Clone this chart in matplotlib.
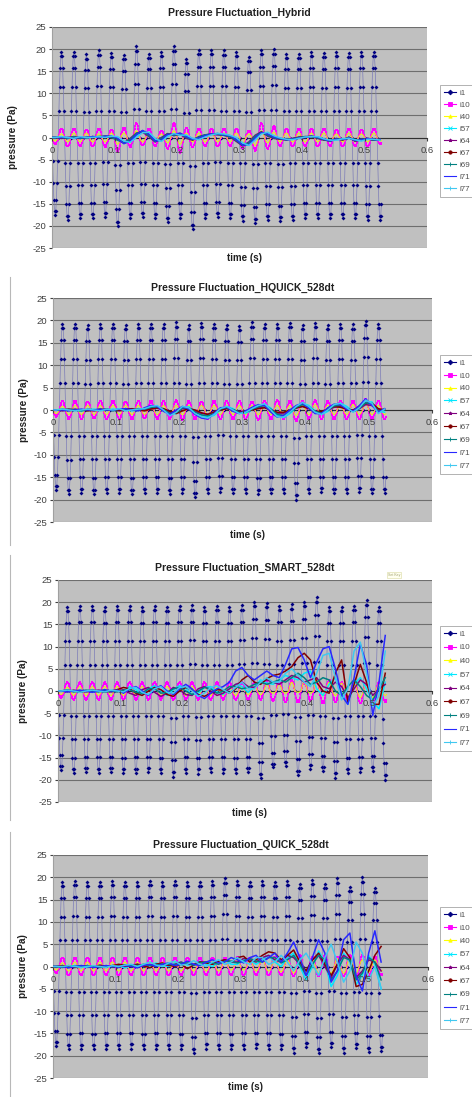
import numpy as np
import matplotlib
matplotlib.use("Agg")
import matplotlib.pyplot as plt
from matplotlib.lines import Line2D

plt.rcParams['font.family'] = ['Liberation Sans', 'DejaVu Sans']
plt.rcParams['axes.unicode_minus'] = False

# ---------------- data ----------------
series_names = ["i1", "i10", "i40", "i57", "i64", "i67", "i69", "i71", "i77"]
titles = ["Pressure Fluctuation_Hybrid", "Pressure Fluctuation_HQUICK_528dt",
          "Pressure Fluctuation_SMART_528dt", "Pressure Fluctuation_QUICK_528dt"]
n_samples = 528          # 1 ms steps
# one 20 ms cycle of the probe signal, normalised (read from marker levels)
cycle_shape = [0, -0.31, -0.59, -0.81, -0.95, -1.0, -0.95, -0.81, -0.59, -0.31,
               0, 0.31, 0.59, 0.81, 0.95, 1.0, 0.95, 0.81, 0.59, 0.31]

# i1 per-cycle maxima / minima
hyb_i1_hi = [19.3, 19.3, 18.8, 19.7, 19.2, 18.6, 20.6, 19, 19.3, 20.6, 17.8, 19.8, 19.8,
             19.7, 19.3, 18.3, 19.8, 20, 19, 19, 19.3, 19.1, 19.3, 19.1, 19.3, 19.3]
hyb_i1_lo = [-17.5, -18.6, -18.3, -18.3, -17.9, -20.1, -18.3, -17.9, -18.3, -19.2, -18.3,
             -20.8, -18.3, -17.9, -18.3, -18.8, -19.4, -18.6, -19, -18.6, -18.3, -18.3,
             -18.3, -18.3, -18.3, -18.6, -18.6]
hq_i1_hi = [19.2, 19.3, 19, 19.2, 19.3, 19, 19.2, 19.3, 19.2, 19.6, 19, 19.5, 19.2, 19,
            18.8, 19.6, 19.2, 19.3, 19.4, 19, 19.5, 19, 19.2, 19.1, 19.9, 19.3]
hq_i1_lo = [-17.8, -18.8, -18.6, -18.7, -18.5, -18.6, -18.7, -18.5, -18.6, -18.7, -18.6,
            -19.5, -18.5, -18.3, -18.6, -18.5, -18.7, -18.5, -18.6, -20, -18.5, -18.4,
            -18.6, -18.5, -18.3, -18.6, -18.5]
sm_i1_hi = [19, 19.2, 19.2, 19, 19.2, 19.2, 19, 19.2, 19, 19.2, 19.3, 19, 19.2, 19, 19.3,
            20.1, 19.8, 19.2, 19.5, 20.1, 21.1, 19, 19, 19.2, 20.5, 19]
sm_i1_lo = [-17.8, -18.5, -18.3, -18.4, -18.3, -18.5, -18.4, -18.3, -18.5, -19.3, -18.4,
            -18.6, -18.3, -18.4, -18.5, -18.3, -19.7, -17.2, -16.8, -19, -17.5, -18,
            -19.5, -18.5, -18.3, -18, -20]
qk_i1_hi = [19, 19.2, 19, 19, 19.2, 19, 19, 19.2, 19, 19.2, 19, 19, 19.2, 19.8, 19.2, 19,
            19.2, 19, 19.2, 18.5, 19.5, 18.5, 19.8, 17.8, 20, 17.5]
qk_i1_lo = [-17.8, -18.6, -18.5, -18.6, -18.5, -18.5, -18.4, -18.6, -18.5, -18.5, -18.6,
            -19.5, -18.4, -18.5, -18.6, -18.5, -18.3, -18.5, -18.6, -19.3, -18, -19.5,
            -18, -19.3, -18.3, -19.2, -19]

# i10 per-cycle maxima / minima
hyb_i10_hi = [2, 2, 1.8, 2, 1.8, 2.2, 3.3, 2, 1.5, 3.3, 2.2, 2, 2, 2, 2, 1.5, 3.2, 2.5,
              2, 2, 2, 2, 1.8, 2, 1.8, 2]
hyb_i10_lo = [-1.5, -2, -2, -2, -2.2, -3.3, -2.2, -1.8, -2, -2.5, -3.5, -2.2, -2, -2, -2,
              -2.5, -3, -2.5, -2, -2, -2, -2, -2, -2, -2, -2, -1.5]
hq_i10_hi = [2, 2, 1.8, 2, 2, 1.8, 2, 2, 2, 2.2, 2, 1.8, 2, 2, 2, 1.8, 2, 2.2, 2, 2, 2.2,
             2, 2, 2, 2.5, 2]
hq_i10_lo = [-1.5, -2, -2, -1.8, -2, -2, -2, -1.8, -2, -2, -2.2, -2, -2, -2, -2, -2, -2.2,
             -2, -2, -2.5, -2, -2, -2, -2, -2, -2, -2]
sm_i10_hi = [2, 2, 2, 2, 2, 2, 2, 2, 2, 2, 2, 2, 2, 2, 2, 2, 2, 2, 2.5, 2, 2, 2.5, 2, 2,
             2, 2]
sm_i10_lo = [-1.5, -2, -2, -2, -2, -2, -2, -2, -2, -2, -2, -2, -2, -2, -2, -2, -2, -2.2,
             -2.5, -2.5, -2.2, -2.8, -2.5, -2.5, -2.8, -2.5, -2.5]
qk_i10_hi = [2, 2, 2, 2, 2, 2, 2, 2, 2, 2, 2, 2, 2, 2, 2.2, 2, 2, 2.2, 2, 2.5, 2.2, 2.5,
             2.2, 2.5, 2.5, 2.2]
qk_i10_lo = [-1.5, -2, -2, -2, -2, -2, -2, -2, -2, -2, -2, -2, -2, -2, -2, -2, -2, -2,
             -2, -2.2, -2, -2.2, -2.5, -2.2, -2.5, -2.2, -2]

# i40 per-cycle maxima / minima
hyb_i40_hi = [0.8, 1, 1, 0.8, 1, 1, 1.5, 1, 0.8, 1.5, 1, 1, 1, 1, 1, 0.8, 1.5, 1.2, 1, 1,
              1, 1, 0.8, 1, 0.8, 1]
hyb_i40_lo = [-0.8, -1, -1, -1, -1, -1.5, -1.2, -1, -1, -1.2, -1.5, -1, -1, -1, -1, -1.2,
              -1.8, -1.2, -1, -1, -1, -1, -1, -1, -1, -1, -0.8]
hq_i40_hi = [0.8, 1, 1, 1, 1, 1, 1, 1, 1, 1, 1, 1, 1, 1, 1, 1, 1, 1, 1, 1, 1.2, 1, 1, 1.2,
             1.5, 1]
hq_i40_lo = [-0.8, -1, -1, -1, -1, -1, -1, -1, -1, -1, -1, -1, -1, -1, -1, -1, -1, -1, -1,
             -1.2, -1, -1, -1, -1, -1, -1, -1]
sm_i40_hi = [0.8, 1, 1, 1, 1, 1, 1, 1, 1, 1, 1, 1, 1, 1, 1, 1.2, 1.5, 1.5, 2, 2, 2.5, 2,
             1.8, 2, 2, 1.5]
sm_i40_lo = [-0.8, -1, -1, -1, -1, -1, -1, -1, -1, -1, -1, -1, -1, -1, -1, -0.8, -0.8,
             -0.5, -0.5, -0.3, -0.5, -1, -1, -1, -1.5, -1.5, -1]
qk_i40_hi = [0.8, 1, 1, 1, 1, 1, 1, 1, 1, 1, 1, 1, 1.2, 1.2, 1.5, 1.5, 1.5, 1.8, 1.5, 2,
             1.5, 2, 1.8, 2, 1.5, 1.5]
qk_i40_lo = [-0.8, -1, -1, -1, -1, -1, -1, -1, -1, -1, -1, -1, -1, -1, -0.8, -0.8, -1, -1,
             -1.2, -1.5, -1.2, -1.5, -1.5, -1.5, -1.5, -1.2, -1]

# slow probes, one value every half cycle (t = 0, 0.005, 0.015, ..., 0.525)
hyb_i57 = [0, 0, 0.2, -0.2, 0, 0, -0.2, 0.2, 0, 0.2, 0.3, 0, -1.0, -1.0, 0.3, 1.3, 1.0,
           -0.5, -0.8, 0.5, 0.8, 0.6, 0.4, -0.4, -0.3, 0.3, 0.7, 0.9, 0.7, 0.4, -0.3, -1.5,
           -1.7, -0.3, 1.0, 1.0, 0.2, -0.2, -0.5, -0.4, -0.1, 0.1, 0.3, 0.1, -0.4, -0.7,
           -0.5, -0.4, -0.1, -0.6, -0.7, -0.3, -0.5, -0.5]
hyb_i64 = [0, 0, -0.2, 0, 0.2, 0, 0, 0, 0.2, 0.2, 0, -0.5, -1.2, -0.2, 1.0, 1.2, 0.2,
           -1.0, 0, 0.9, 0.4, 0.7, -0.2, -0.6, 0.2, 0.6, 0.7, 0.6, 0.5, 0.1, -0.9, -1.9,
           -1.0, 0.5, 1.3, 0.3, -0.2, -0.4, -0.5, -0.2, 0.1, 0.2, 0.2, -0.2, -0.6, -0.7,
           -0.2, -0.6, 0.1, -0.8, -0.3, -0.3, -0.6, -0.3]
hyb_i67 = [0, 0, 0, -0.2, 0, -0.2, 0, 0.2, 0, 0.3, 0.2, -0.3, -1.3, -0.6, 0.8, 1.5, 0.6,
           -0.9, -0.4, 0.8, 0.6, 0.9, 0.1, -0.5, 0, 0.5, 0.8, 0.8, 0.6, 0.3, -0.6, -1.8,
           -1.4, 0.1, 1.2, 0.6, 0, -0.3, -0.5, -0.3, 0, 0.1, 0.3, 0, -0.5, -0.8, -0.3,
           -0.5, 0, -0.8, -0.5, -0.2, -0.6, -0.4]
hyb_i69 = [0, 0, 0, -0.2, 0.2, -0.2, 0, 0.2, 0.2, 0.3, 0, -0.6, -1.2, -0.4, 0.9, 1.4, 0.4,
           -0.9, -0.2, 0.8, 0.5, 0.8, 0, -0.5, 0.1, 0.6, 0.8, 0.7, 0.5, 0.2, -0.7, -1.8,
           -1.2, 0.3, 1.2, 0.5, -0.1, -0.3, -0.5, -0.3, 0, 0.2, 0.2, -0.1, -0.5, -0.8,
           -0.3, -0.5, 0, -0.7, -0.4, -0.3, -0.6, -0.4]
hyb_i71 = [0, 0, 0, 0, -0.2, 0, 0, 0.2, 0, 0.3, 0.3, -0.2, -1.4, -0.8, 0.6, 1.6, 0.8,
           -0.8, -0.6, 0.7, 0.7, 1.0, 0.2, -0.4, -0.1, 0.4, 0.8, 0.9, 0.6, 0.4, -0.5, -1.7,
           -1.6, -0.1, 1.1, 0.8, 0.1, -0.2, -0.5, -0.4, -0.1, 0, 0.3, 0.1, -0.4, -0.8,
           -0.4, -0.4, -0.1, -0.7, -0.6, -0.2, -0.5, -0.5]
hyb_i77 = [0, 0, 0.2, 0, -0.2, 0.2, 0, 0, 0.2, 0, 0.3, 0.2, -0.8, -1.1, 0, 1.1, 1.2,
           -0.2, -0.9, 0.2, 0.9, 0.5, 0.6, -0.2, -0.5, 0.1, 0.6, 0.9, 0.8, 0.5, 0, -1.2,
           -1.8, -0.6, 0.8, 1.2, 0.4, -0.1, -0.4, -0.5, -0.2, 0.1, 0.2, 0.2, -0.3, -0.6,
           -0.6, -0.3, -0.2, -0.5, -0.8, -0.4, -0.4, -0.6]

hq_i57 = [0, 0, 0, 0.2, 0, -0.2, 0, 0.2, 0, 0, 0.2, 0, 0.2, -0.2, 0, 0.4, 0.6, 0.8, 0.2,
          -1.0, -0.8, 0.5, 0.7, -0.4, -1.2, -1.5, -1.2, 0, 0.8, 0.3, -0.6, -0.7, 0, 0.8,
          1.3, 0.4, -1.2, -1.7, -0.8, 0.5, 1.5, 1.0, -0.2, -1.0, -0.3, 1.0, 1.5, 0.8,
          -0.3, 0.2, 1.8, 1.8, -0.3, -0.5]
hq_i64 = [0, 0, -0.2, 0, 0.2, 0, 0, -0.2, 0, 0.2, 0, -0.2, 0, 0.3, 0, 0, 0.3, 0.4, 0,
          -0.5, -0.3, 0.3, 0.2, -0.3, -0.8, -0.9, -0.4, 0.2, 0.4, 0, -0.4, -0.2, 0.2, 0.5,
          0.6, 0, -0.7, -0.7, -0.2, 0.4, 0.8, 0.4, -0.3, -0.5, 0, 0.6, 0.8, 0.3, -0.2,
          0.3, 1.2, 1.0, 0, 0.2]
hq_i67 = [0, 0, 0, 0.2, 0, 0, -0.2, 0, 0.2, 0, 0, 0, 0.3, 0.2, 0, -0.2, 0.2, 0.5, 0.3,
          -0.3, -0.8, -0.2, 0.3, 0, -0.6, -1.0, -0.5, 0, 0.3, 0, -0.5, -0.3, 0, 0.3, 0.5,
          0, -0.5, -0.5, 0, 0.5, 0.8, 0.3, -0.3, -0.3, 0.2, 0.8, 0.6, 0.2, 0, 0.8, 1.5,
          1.5, 0.3, 0]
hq_i69 = [0, 0, 0.2, 0, 0, -0.2, 0.2, 0, 0, 0.2, -0.2, 0.2, 0, 0, 0.3, 0.2, 0.6, 0.7, 0.1,
          -0.8, -0.6, 0.5, 0.5, -0.5, -1.1, -1.3, -0.8, 0.2, 0.6, 0.1, -0.6, -0.5, 0.2,
          0.7, 1.0, 0.2, -1.0, -1.2, -0.5, 0.6, 1.2, 0.7, -0.3, -0.7, 0, 0.9, 1.1, 0.4,
          -0.3, 0.4, 1.6, 1.3, -0.3, 0]
hq_i71 = [0, 0, 0, -0.2, 0, 0.2, 0, 0, 0.2, 0, 0, 0.2, 0.3, 0, -0.2, 0.5, 1.0, 0.8, -0.3,
          -1.0, 0, 0.8, 0.2, -1.0, -1.8, -2.0, -0.8, 0.5, 0.6, -0.3, -0.8, -0.2, 0.6, 1.2,
          1.0, -0.5, -1.6, -1.2, 0, 1.0, 1.5, 0.4, -0.8, -0.8, 0.5, 1.3, 1.2, 0.2, -0.2,
          1.0, 2.5, 1.0, -0.5, 0.3]
hq_i77 = [0, 0, 0.2, 0, -0.2, 0, 0.2, 0, -0.2, 0.2, 0, 0.3, -0.2, 0, 0.2, 0.3, 0.8, 1.0,
          0, -1.3, -0.5, 0.8, 0.5, -0.8, -1.5, -1.8, -1.0, 0.3, 0.8, 0, -0.8, -0.5, 0.3,
          1.0, 1.4, 0, -1.5, -1.6, -0.5, 0.8, 1.7, 0.8, -0.5, -1.0, 0, 1.2, 1.5, 0.5, -0.5,
          0.5, 2.2, 1.5, -0.8, 0.2]

sm_i57 = [0, 0, 0.3, 0, -0.2, 0, 0.3, 0, -0.3, 0, 0.3, -0.3, 1.0, 0.3, -0.8, 0.5, 1.2, 0,
          -1.0, 0.3, 1.2, 0.6, -0.8, -0.5, 0.8, 1.0, -0.2, -0.8, 0.5, 1.5, 1.0, -0.3, 1.0,
          2.5, 1.8, 1.5, 2.5, 3.5, 3.0, 2.5, 4.0, 4.5, 0.5, -1.0, 1.5, 3.0, -0.5, -3.0,
          1.5, 3.0, 0.5, -2.5, -4.0, 2.0]
sm_i64 = [0, 0, -0.2, 0.2, 0, -0.2, 0, 0.2, 0, -0.2, 0, 0.3, -0.5, -1.0, 0.3, 0.8, -0.3,
          -1.2, -0.5, 0.8, 0.3, -0.8, -1.0, 0.5, 1.0, 0, -1.0, -0.5, 0.5, 1.5, 2.0, 1.0,
          0.8, 1.8, 2.5, 2.0, 1.5, 2.5, 3.5, 3.0, 2.0, 2.5, 3.0, 1.0, 0.5, 2.0, 1.0, -1.5,
          0.5, 2.5, 1.5, -1.0, 0.5, 1.5]
sm_i67 = [0, 0, 0.2, 0, -0.2, 0, 0.2, 0, -0.2, 0, 0.3, 0.8, 0.5, -0.5, -1.0, 0, 0.8, 0.3,
          -0.8, -1.2, 0, 0.8, 0.2, -0.8, -1.2, -0.5, 0.3, 0.2, -0.5, 0.5, 2.5, 3.5, 2.0,
          1.5, 2.8, 3.5, 3.8, 4.5, 5.5, 7.5, 8.5, 7.0, 2.0, 0, -0.5, 4.0, 7.0, -2.5, 1.5,
          6.0, 2.0, -3.0, -3.0, 4.0]
sm_i69 = [0, 0, 0.2, -0.2, 0, 0.2, 0, -0.2, 0.2, 0, -0.2, 0.2, 0.3, -0.3, -0.5, 0.5, 0.5,
          -0.5, -0.3, 0.5, 0.8, 0, -0.8, 0, 0.8, 0.5, -0.5, 0, 1.0, 1.0, 0.5, 0.8, 1.5,
          2.0, 1.5, 2.0, 2.5, 2.0, 3.0, 4.0, 3.0, 1.5, 2.0, 3.0, 2.5, 0, -1.0, 1.0, 2.5,
          1.0, -1.0, -2.0, 0.5, 3.0]
sm_i71 = [0, 0, -0.2, 0, 0.2, 0, -0.3, 0, 0.3, 0, 0.2, -0.5, 0.5, 1.0, 0, -1.0, 0.5, 1.2,
          0, -0.8, 0.5, 1.5, 0.5, -1.0, -1.7, -0.5, 0.5, 1.0, 2.0, 4.5, 5.3, 3.5, 2.5, 3.5,
          4.5, 3.5, 3.0, 6.0, 9.5, 9.8, 7.0, 3.0, 6.5, 9.5, 10.0, 5.0, -1.0, -3.0, 3.0,
          10.5, 6.0, -5.5, 2.0, 12.5]
sm_i77 = [0, 0, 0.2, 0, -0.3, 0, 0.2, 0, -0.2, 0.2, 0, -0.2, 0.6, 0.8, -0.3, -0.8, 0.5,
          1.0, -0.3, -0.5, 0.8, 1.0, 0, -1.2, -0.5, 0.8, 1.2, 0.3, -0.5, 0.8, 2.0, 0.5,
          0.5, 2.0, 3.0, 2.0, 2.0, 4.0, 5.0, 3.5, 2.0, 1.0, 4.0, 8.0, 8.5, 3.0, -2.0, 0.5,
          9.0, 11.0, 4.0, -3.5, -1.0, 9.0]

qk_i57 = [0, 0, -0.2, 0, 0.2, 0, -0.2, 0, 0.2, 0, 0, 0.2, -0.3, 0.2, 0.5, 0, 0.3, 0.8,
          0.2, 0, 0.8, 1.0, 0.3, 0.5, 1.2, 0.5, 0, 1.0, 1.5, 0.5, 0.5, 1.5, 1.5, 0.5, 1.5,
          2.5, 1.0, 0, 2.0, 3.0, 0, -3.0, 0, 3.5, 1.0, -4.5, -2.0, 3.0, 1.0, -4.0, -2.0,
          2.5, 0.5, -5.0]
qk_i64 = [0, 0, 0.2, 0, -0.2, 0.2, 0, -0.2, 0, 0.2, 0, 0.3, 0, 0.3, 0.5, 0, 0.3, 0.5, 0.5,
          0.2, 0.5, 1.0, 0.5, 0.5, 1.0, 1.0, 0.5, 1.0, 1.5, 1.0, 1.0, 1.8, 1.5, 1.0, 2.0,
          2.5, 1.5, 1.0, 2.5, 2.0, 0.5, -1.0, 1.5, 2.5, 0, -2.5, 0.5, 2.5, 1.5, -2.5, -1.0,
          1.5, 1.0, -1.0]
qk_i67 = [0, 0, 0.2, 0, -0.2, 0, 0.2, 0, 0.3, 0, 0.2, 0.5, 0.3, 0, 0.5, 0.2, -0.3, 0.5,
          0.8, 0.3, 0, 0.5, -0.5, 0.3, 1.0, 0.8, 0.5, 1.2, 1.5, 1.0, 2.0, 2.3, 1.0, 1.5,
          2.5, 3.3, 3.0, 1.5, 2.5, 3.7, 1.0, -1.0, 1.5, 3.0, 0.5, -2.0, 0.5, 4.0, 2.0,
          -4.5, -4.0, -1.0, 2.5, 4.5]
qk_i69 = [0, 0, -0.2, 0.2, 0, 0, 0.2, 0, -0.2, 0, 0.2, 0, 0.3, 0.2, 0.2, 0.5, 0.2, 0.3,
          0.6, 0.5, 0.3, 0.8, 0.8, 0.3, 0.8, 1.0, 0.8, 0.5, 1.2, 1.2, 0.8, 1.2, 1.8, 1.2,
          1.0, 2.0, 2.0, 0.8, 1.5, 2.5, 0.5, -2.0, 0.5, 2.5, 1.5, -3.0, -1.0, 2.0, 1.5,
          -3.0, -1.5, 2.0, 1.0, -3.0]
qk_i71 = [0, 0, 0, -0.3, 0, 0.2, 0, -0.2, 0, 0.2, 0, -0.2, 0.3, 0, -0.3, 0.3, 0.5, 0, 0.5,
          0.8, 0.2, 0.5, 1.2, 0.5, 0.2, 1.0, 1.5, 0.8, 1.0, 2.0, 1.5, 0.8, 2.0, 2.5, 1.0,
          2.0, 3.0, 1.0, 3.0, 5.5, 2.0, -2.0, 2.0, 6.0, 3.0, -3.5, -1.0, 6.0, 7.5, -2.0,
          -5.5, 3.0, 8.0, 1.0]
qk_i77 = [0, 0, 0, 0.2, 0, -0.2, 0, 0.2, 0, -0.2, 0.2, 0, 0.3, 0.5, 0, 0.5, 1.0, 0.3, 0,
          0.8, 1.2, 0.3, 0.5, 1.3, 0.5, 0, 1.0, 1.5, 0.5, 1.0, 2.0, 1.0, 0.5, 2.0, 2.0, 0.5,
          1.0, 2.5, 1.0, -1.0, 1.5, 3.0, 0.5, -2.0, 2.0, 5.0, 1.0, -3.5, -1.0, 5.5, 3.0,
          -3.0, 0, -5.0]

panels = [
    dict(i1=(hyb_i1_hi, hyb_i1_lo), i10=(hyb_i10_hi, hyb_i10_lo), i40=(hyb_i40_hi, hyb_i40_lo),
         slow=[hyb_i57, hyb_i64, hyb_i67, hyb_i69, hyb_i71, hyb_i77]),
    dict(i1=(hq_i1_hi, hq_i1_lo), i10=(hq_i10_hi, hq_i10_lo), i40=(hq_i40_hi, hq_i40_lo),
         slow=[hq_i57, hq_i64, hq_i67, hq_i69, hq_i71, hq_i77]),
    dict(i1=(sm_i1_hi, sm_i1_lo), i10=(sm_i10_hi, sm_i10_lo), i40=(sm_i40_hi, sm_i40_lo),
         slow=[sm_i57, sm_i64, sm_i67, sm_i69, sm_i71, sm_i77]),
    dict(i1=(qk_i1_hi, qk_i1_lo), i10=(qk_i10_hi, qk_i10_lo), i40=(qk_i40_hi, qk_i40_lo),
         slow=[qk_i57, qk_i64, qk_i67, qk_i69, qk_i71, qk_i77]),
]

# ---------------- styling ----------------
colors = ["#000080", "#ff00ff", "#ffff00", "#00e8ff", "#800080", "#800000", "#008080",
          "#2828ff", "#40c8f0"]
markers = ["D", "s", "^", "x", "*", "o", "+", "_", "|"]

W, H = 472, 1097
# axes boxes in pixels: left, right, top, bottom
boxes = [(52, 427, 27, 248), (53, 432, 298, 522), (58, 432, 580, 802), (53, 428, 855, 1078)]
title_y = [13, 288, 568, 845]
xlabel_y = [258, 535, 813, 1087]
ylabel_x = [13, 24, 23, 23]
legend_top = [85, 355, 626, 907]
legend_spacing = [0.55, 0.65, 0.75, 0.7]


def wave(hi, lo):
    vals = []
    for i in range(n_samples):
        c, k = divmod(i, len(cycle_shape))
        s = cycle_shape[k]
        vals.append(s * hi[min(c, len(hi) - 1)] if s > 0 else -s * lo[c])
    return np.array(vals)


t_fast = np.arange(n_samples) * 0.001
t_slow = np.concatenate([[0.0], 0.005 + 0.01 * np.arange(53)])

fig = plt.figure(figsize=(W / 100, H / 100), dpi=100)
fig.patch.set_facecolor("white")

for p, (pan, box) in enumerate(zip(panels, boxes)):
    l, r, t, b = box
    ax = fig.add_axes([l / W, 1 - b / H, (r - l) / W, (b - t) / H])
    ax.set_facecolor("#c0c0c0")

    ax.plot(t_fast, wave(*pan["i1"]), color="#7c7cb8", lw=0.5,
            marker="D", ms=2.0, mfc=colors[0], mec=colors[0], mew=0, zorder=2)
    ax.plot(t_fast, wave(*pan["i10"]), color=colors[1], lw=0.8,
            marker="s", ms=1.7, mew=0, zorder=3)
    ax.plot(t_fast, wave(*pan["i40"]), color="#f0f000", lw=0.7, zorder=3)
    for j, ys in enumerate(pan["slow"]):
        ax.plot(t_slow, ys, color=colors[3 + j], lw=1.1, zorder=4 + j)

    ax.set_xlim(0, 0.6)
    ax.set_ylim(-25, 25)
    ax.set_yticks(np.arange(-25, 26, 5))
    ax.set_xticks(np.arange(0, 0.61, 0.1))
    ax.set_xticklabels(["0", "0.1", "0.2", "0.3", "0.4", "0.5", "0.6"])
    ax.yaxis.grid(True, color="#6e6e6e", lw=0.8)
    ax.set_axisbelow(True)
    ax.spines["bottom"].set_position(("data", 0))
    ax.spines["bottom"].set_color("#303030")
    ax.spines["bottom"].set_zorder(1.5)
    ax.spines["left"].set_color("#a0a0a0")
    ax.spines["top"].set_visible(False)
    ax.spines["right"].set_visible(False)
    ax.tick_params(axis="y", labelsize=6.8, colors="#404040", length=2, pad=2)
    ax.tick_params(axis="x", labelsize=6.8, colors="#404040", length=2, pad=4)
    ax.xaxis.set_zorder(20)

    fig.text((l + r) / 2 / W, 1 - title_y[p] / H, titles[p], ha="center", va="center",
             fontsize=7.5, fontweight="bold", color="#202020")
    fig.text((l + r) / 2 / W + 5 / W, 1 - xlabel_y[p] / H, "time (s)", ha="center",
             va="center", fontsize=7, fontweight="bold", color="#202020")
    fig.text(ylabel_x[p] / W, 1 - (t + b) / 2 / H, "pressure (Pa)", ha="center",
             va="center", rotation=90, fontsize=7.2, fontweight="bold", color="#202020")

    handles = [Line2D([], [], color=colors[i], lw=0.8, marker=markers[i], ms=2.4,
                      mew=0.6) for i in range(len(series_names))]
    leg = fig.legend(handles, series_names, loc="upper left",
                     bbox_to_anchor=(440 / W, 1 - legend_top[p] / H),
                     bbox_transform=fig.transFigure, fontsize=5.8, frameon=True,
                     fancybox=False, edgecolor="#909090", handlelength=1.5,
                     handletextpad=0.4, labelspacing=legend_spacing[p],
                     borderpad=0.5, borderaxespad=0)
    leg.get_frame().set_linewidth(0.6)
    for txt in leg.get_texts():
        txt.set_color("#505050")

# "set key" button in the SMART chart
fig.text(394 / W, 1 - 575 / H, "Set Key", ha="center", va="center", fontsize=2.5,
         color="#a0a070", bbox=dict(boxstyle="square,pad=0.3", fc="#fffff0", ec="#d8d8a0",
                                    lw=0.4))

# left border lines of the pasted charts
for x0, y0, y1 in [(10, 277, 545), (10, 555, 820), (10, 832, 1097)]:
    fig.add_artist(Line2D([x0 / W, x0 / W], [1 - y0 / H, 1 - y1 / H], color="#b8b8b8",
                          lw=0.8, transform=fig.transFigure))

fig.savefig("out.png", dpi=100)
